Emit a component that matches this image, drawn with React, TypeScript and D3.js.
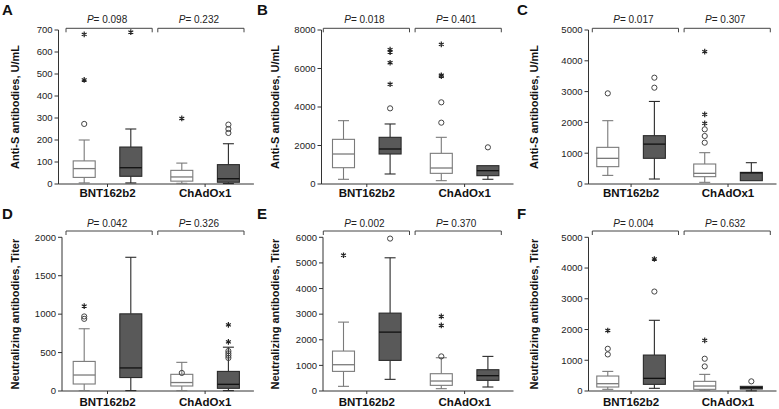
import React from "react";
import * as d3 from "d3";

type Box = {
  group: string;
  arm: number;
  lo: number;
  q1: number;
  med: number;
  q3: number;
  hi: number;
  circles: number[];
  stars: number[];
};

const groups = ["BNT162b2", "ChAdOx1"];
const arms = [0, 1];

const boxesA: Box[] = [
  { group: "BNT162b2", arm: 0, lo: 5, q1: 30, med: 70, q3: 105, hi: 200, circles: [273], stars: [473, 680] },
  { group: "BNT162b2", arm: 1, lo: 5, q1: 35, med: 74, q3: 168, hi: 250, circles: [], stars: [690] },
  { group: "ChAdOx1", arm: 0, lo: 3, q1: 13, med: 32, q3: 62, hi: 95, circles: [], stars: [298] },
  { group: "ChAdOx1", arm: 1, lo: 2, q1: 8, med: 24, q3: 88, hi: 183, circles: [232, 250, 270], stars: [] },
];
const boxesB: Box[] = [
  { group: "BNT162b2", arm: 0, lo: 244, q1: 847, med: 1558, q3: 2320, hi: 3290, circles: [], stars: [] },
  { group: "BNT162b2", arm: 1, lo: 520, q1: 1558, med: 1818, q3: 2425, hi: 3118, circles: [3930], stars: [5180, 6300, 6850, 6980] },
  { group: "ChAdOx1", arm: 0, lo: 173, q1: 554, med: 831, q3: 1593, hi: 2425, circles: [3187, 4243], stars: [5600, 5650, 7250] },
  { group: "ChAdOx1", arm: 1, lo: 245, q1: 433, med: 693, q3: 952, hi: 952, circles: [1905], stars: [] },
];
const boxesC: Box[] = [
  { group: "BNT162b2", arm: 0, lo: 280, q1: 563, med: 833, q3: 1190, hi: 2056, circles: [2943], stars: [] },
  { group: "BNT162b2", arm: 1, lo: 162, q1: 834, med: 1295, q3: 1569, hi: 2680, circles: [3127, 3452], stars: [] },
  { group: "ChAdOx1", arm: 0, lo: 54, q1: 238, med: 346, q3: 649, hi: 1017, circles: [1342, 1558, 1775], stars: [1969, 2261, 4296] },
  { group: "ChAdOx1", arm: 1, lo: 108, q1: 108, med: 360, q3: 378, hi: 692, circles: [], stars: [] },
];
const boxesD: Box[] = [
  { group: "BNT162b2", arm: 0, lo: 5, q1: 91, med: 208, q3: 385, hi: 810, circles: [939, 970], stars: [1104] },
  { group: "BNT162b2", arm: 1, lo: 5, q1: 175, med: 300, q3: 1004, hi: 1740, circles: [], stars: [] },
  { group: "ChAdOx1", arm: 0, lo: 5, q1: 65, med: 110, q3: 217, hi: 373, circles: [235], stars: [] },
  { group: "ChAdOx1", arm: 1, lo: 5, q1: 35, med: 87, q3: 255, hi: 570, circles: [430, 460, 490, 520], stars: [640, 860] },
];
const boxesE: Box[] = [
  { group: "BNT162b2", arm: 0, lo: 182, q1: 766, med: 1026, q3: 1559, hi: 2689, circles: [], stars: [5300] },
  { group: "BNT162b2", arm: 1, lo: 455, q1: 1195, med: 2299, q3: 3040, hi: 5200, circles: [5950], stars: [] },
  { group: "ChAdOx1", arm: 0, lo: 91, q1: 221, med: 390, q3: 675, hi: 1299, circles: [1351], stars: [2559, 2910] },
  { group: "ChAdOx1", arm: 1, lo: 156, q1: 416, med: 598, q3: 831, hi: 1351, circles: [], stars: [] },
];
const boxesF: Box[] = [
  { group: "BNT162b2", arm: 0, lo: 54, q1: 130, med: 238, q3: 487, hi: 638, circles: [1190, 1374], stars: [1969] },
  { group: "BNT162b2", arm: 1, lo: 87, q1: 216, med: 411, q3: 1169, hi: 2300, circles: [3235], stars: [4295] },
  { group: "ChAdOx1", arm: 0, lo: 20, q1: 54, med: 162, q3: 314, hi: 541, circles: [800, 1050], stars: [1645] },
  { group: "ChAdOx1", arm: 1, lo: 5, q1: 65, med: 108, q3: 151, hi: 151, circles: [314], stars: [] },
];

const ticksA = [0, 100, 200, 300, 400, 500, 600, 700];
const ticksB = [0, 2000, 4000, 6000, 8000];
const ticksC = [0, 1000, 2000, 3000, 4000, 5000];
const ticksD = [0, 500, 1000, 1500, 2000];
const ticksE = [0, 1000, 2000, 3000, 4000, 5000, 6000];
const ticksF = [0, 1000, 2000, 3000, 4000, 5000];

const pValuesA = ["0.098", "0.232"];
const pValuesB = ["0.018", "0.401"];
const pValuesC = ["0.017", "0.307"];
const pValuesD = ["0.042", "0.326"];
const pValuesE = ["0.002", "0.370"];
const pValuesF = ["0.004", "0.632"];

const titleTop = "Anti-S antibodies, U/mL";
const titleBottom = "Neutralizing antibodies, Titer";

// layout
const cols = [
  { x0: 58.7, x1: 253.9, bStart: 66, titleX: 15, letterX: 2 },
  { x0: 317.9, x1: 513.5, bStart: 323.3, titleX: 275, letterX: 257 },
  { x0: 582.6, x1: 776.5, bStart: 592.3, titleX: 534, letterX: 517 },
];
const rows = [
  { top: 30, bottom: 184, header: 0, bracketY: 28.3, catY: 197 },
  { top: 237.3, bottom: 391, header: 204, bracketY: 231, catY: 405.5 },
];

const panels = [
  { letter: "A", col: 0, row: 0, axisX: 58.5, boxes: boxesA, ticks: ticksA, p: pValuesA, title: titleTop },
  { letter: "B", col: 1, row: 0, axisX: 321.5, boxes: boxesB, ticks: ticksB, p: pValuesB, title: titleTop },
  { letter: "C", col: 2, row: 0, axisX: 588.5, boxes: boxesC, ticks: ticksC, p: pValuesC, title: titleTop },
  { letter: "D", col: 0, row: 1, axisX: 62, boxes: boxesD, ticks: ticksD, p: pValuesD, title: titleBottom },
  { letter: "E", col: 1, row: 1, axisX: 323, boxes: boxesE, ticks: ticksE, p: pValuesE, title: titleBottom },
  { letter: "F", col: 2, row: 1, axisX: 588.5, boxes: boxesF, ticks: ticksF, p: pValuesF, title: titleBottom },
];

const FONT = "'Liberation Sans', Arial, Helvetica, sans-serif";
const BOX_W = 22;
const CAP = 5.5;
const ARM_OFFSET = 23.3;

const styles = [
  { fill: "#ffffff", stroke: "#7a7a7a", median: "#7a7a7a", whisker: "#7a7a7a" },
  { fill: "#595959", stroke: "#2a2a2a", median: "#111111", whisker: "#2a2a2a" },
];

const starPath = d3.symbol(d3.symbolAsterisk, 22)();

function Panel({ p }: { p: (typeof panels)[number] }) {
  const c = cols[p.col];
  const r = rows[p.row];
  const x = d3.scaleBand<string>().domain(groups).range([c.x0, c.x1]).padding(0);
  const bw = x.bandwidth();
  const xa = d3
    .scalePoint<number>()
    .domain(arms)
    .range([bw / 2 - ARM_OFFSET, bw / 2 + ARM_OFFSET]);
  const ymax = p.ticks[p.ticks.length - 1];
  const y = d3.scaleLinear().domain([0, ymax]).range([r.bottom, r.top]);

  const bTotal = 178;
  const gap = 5.6;
  const bw1 = (bTotal - gap) / 2;
  const brackets = [
    [c.bStart, c.bStart + bw1],
    [c.bStart + bw1 + gap, c.bStart + bTotal],
  ];

  return (
    <g>
      <text x={c.letterX} y={r.header + 15} fontFamily={FONT} fontWeight="bold" fontSize={15} fill="#111">
        {p.letter}
      </text>
      {brackets.map((b, i) => (
        <g key={i}>
          <path
            d={`M${b[0]},${r.bracketY + 4}V${r.bracketY}H${b[1]}V${r.bracketY + 4}`}
            fill="none"
            stroke="#444"
            strokeWidth={1}
          />
          <text
            x={(b[0] + b[1]) / 2 - 2}
            y={r.header + 22.5}
            textAnchor="middle"
            fontFamily={FONT}
            fontSize={10}
            fill="#222"
          >
            <tspan fontStyle="italic">P</tspan>
            <tspan>{"= " + p.p[i]}</tspan>
          </text>
        </g>
      ))}
      {/* y axis */}
      <line x1={p.axisX} x2={p.axisX} y1={y(ymax)} y2={y(0)} stroke="#333" strokeWidth={1} />
      {p.ticks.map((t) => (
        <g key={t}>
          <line x1={p.axisX - 4} x2={p.axisX} y1={y(t)} y2={y(t)} stroke="#333" strokeWidth={1} />
          <text
            x={p.axisX - 6}
            y={y(t)}
            dy="0.35em"
            textAnchor="end"
            fontFamily={FONT}
            fontSize={9.5}
            fill="#222"
          >
            {t}
          </text>
        </g>
      ))}
      {/* x axis */}
      <line x1={p.axisX} x2={c.x1} y1={y(0)} y2={y(0)} stroke="#333" strokeWidth={1} />
      {groups.map((g) => (
        <g key={g}>
          <line
            x1={(x(g) as number) + bw / 2}
            x2={(x(g) as number) + bw / 2}
            y1={y(0)}
            y2={y(0) + 3}
            stroke="#333"
            strokeWidth={1}
          />
          <text
            x={(x(g) as number) + bw / 2}
            y={r.catY}
            textAnchor="middle"
            fontFamily={FONT}
            fontWeight="bold"
            fontSize={11.5}
            fill="#111"
          >
            {g}
          </text>
        </g>
      ))}
      <text
        transform={`translate(${c.titleX},${(r.top + r.bottom) / 2}) rotate(-90)`}
        dy="0.35em"
        textAnchor="middle"
        fontFamily={FONT}
        fontWeight="bold"
        fontSize={11}
        fill="#111"
      >
        {p.title}
      </text>
      {p.boxes.map((b, i) => {
        const cx = (x(b.group) as number) + (xa(b.arm) as number);
        const s = styles[b.arm];
        return (
          <g key={i}>
            {b.hi > b.q3 && (
              <g stroke={s.whisker} strokeWidth={1.1}>
                <line x1={cx} x2={cx} y1={y(b.q3)} y2={y(b.hi)} />
                <line x1={cx - CAP} x2={cx + CAP} y1={y(b.hi)} y2={y(b.hi)} />
              </g>
            )}
            {b.lo < b.q1 && (
              <g stroke={s.whisker} strokeWidth={1.1}>
                <line x1={cx} x2={cx} y1={y(b.q1)} y2={y(b.lo)} />
                <line x1={cx - CAP} x2={cx + CAP} y1={y(b.lo)} y2={y(b.lo)} />
              </g>
            )}
            <rect
              x={cx - BOX_W / 2}
              y={y(b.q3)}
              width={BOX_W}
              height={Math.max(0.5, y(b.q1) - y(b.q3))}
              fill={s.fill}
              stroke={s.stroke}
              strokeWidth={1.1}
            />
            <line
              x1={cx - BOX_W / 2}
              x2={cx + BOX_W / 2}
              y1={y(b.med)}
              y2={y(b.med)}
              stroke={s.median}
              strokeWidth={1.3}
            />
            {b.circles.map((v, j) => (
              <circle key={"c" + j} cx={cx} cy={y(v)} r={2.6} fill="none" stroke="#444" strokeWidth={1} />
            ))}
            {b.stars.map((v, j) => (
              <path
                key={"s" + j}
                d={starPath as string}
                transform={`translate(${cx},${y(v)})`}
                fill="none"
                stroke="#222"
                strokeWidth={1.2}
              />
            ))}
          </g>
        );
      })}
    </g>
  );
}

export default function App() {
  return (
    <svg
      width={779}
      height={409}
      viewBox="0 0 779 409"
      style={{ position: "absolute", left: 0, top: 0, background: "#fff" }}
    >
      <rect width={779} height={409} fill="#fff" />
      {panels.map((p) => (
        <Panel key={p.letter} p={p} />
      ))}
    </svg>
  );
}
